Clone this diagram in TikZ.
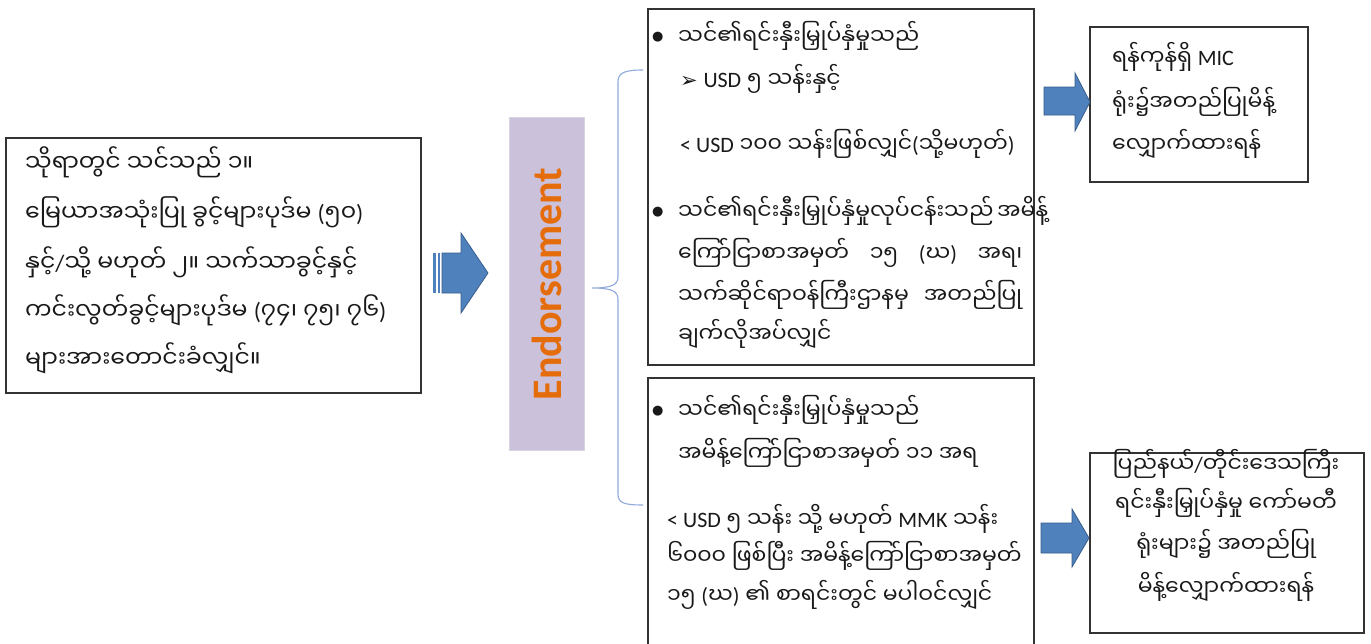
\documentclass[tikz,border=0pt]{standalone}
\usepackage{fontspec}
\setmainfont{Carlito}
\newfontfamily\myfont[Script=Myanmar]{Noto Sans Myanmar UI}
\newfontfamily\djfont{DejaVu Sans}
\newcommand\la[1]{{\rmfamily #1}}
\newcommand\bul{\raisebox{4pt}{\djfont\fontsize{13}{13}\selectfont ●}}
\newcommand\arr{{\djfont\fontsize{21}{21}\selectfont ➢}}
\definecolor{arrowblue}{HTML}{4F81BD}
\definecolor{arrowedge}{HTML}{385D8A}
\definecolor{endfill}{HTML}{CCC1DA}
\definecolor{endedge}{HTML}{D9D2E3}
\definecolor{endtext}{HTML}{E46C0A}
\definecolor{bracecol}{HTML}{8FAADC}
\definecolor{boxedge}{HTML}{333333}
\begin{document}
\begin{tikzpicture}[x=1pt,y=-1pt,
  box/.style={draw=boxedge, line width=1.6pt, inner sep=0pt, anchor=north west},
  mm/.style={inner sep=0pt, anchor=base west, font=\fontsize{22}{26}\selectfont\myfont, text=black!90},
  mmbig/.style={mm, font=\fontsize{23.6}{28}\selectfont\myfont},
  mmc/.style={mm, anchor=base},
  blockarrow/.style={fill=arrowblue, draw=arrowedge, line width=0.8pt, line join=miter}]
\useasboundingbox (0,0) rectangle (1371,643);
\fill[white] (0,0) rectangle (1371,643);

% boxes
\node[box, minimum width=415, minimum height=255] (L) at (5,137) {};
\node[box, fill=endfill, draw=endedge, line width=1pt, minimum width=75, minimum height=333] (E) at (509,117) {};
\node[box, minimum width=386, minimum height=356] (T1) at (647,8) {};
\node[box, minimum width=386, minimum height=290] (T2) at (647,377) {};
\node[box, minimum width=218, minimum height=155] (R1) at (1089,26) {};
\node[box, minimum width=274, minimum height=180] (R2) at (1089,452) {};

% Endorsement label
\node[rotate=90, inner sep=0pt, font=\fontsize{42}{42}\selectfont\bfseries, text=endtext] (Et) at (E.center) {Endorsement};

% striped arrow L -> E
\fill[arrowblue] (433,253) rectangle (435.5,293);
\fill[arrowblue] (437.5,253) rectangle (440,293);
\draw[blockarrow] (442,253) -- (461,253) -- (461,233) -- (488,273) -- (461,313) -- (461,293) -- (442,293) -- cycle;

% arrows T1 -> R1, T2 -> R2
\draw[blockarrow] (1044,87) -- (1075,87) -- (1075,73) -- (1090,102) -- (1075,131) -- (1075,115) -- (1044,115) -- cycle;
\draw[blockarrow] (1041,523) -- (1072,523) -- (1072,509) -- (1089,538) -- (1072,567) -- (1072,553) -- (1041,553) -- cycle;

% brace
\coordinate (bt) at (643,70);
\coordinate (bm) at (592,288);
\coordinate (bb) at (643,505);
\draw[bracecol, line width=1.1pt] (bt) .. controls (624,70) and (618,73) .. (618,82) -- (618,277)
  .. controls (618,285) and (611,288) .. (bm) .. controls (611,288) and (618,291) .. (618,299)
  -- (618,494) .. controls (618,503) and (624,505) .. (bb);

% left box text
\node[mmbig] (l1) at (25,171) {သိုရာတွင် သင်သည် ၁။};
\node[mmbig] (l2) at (25,221) {မြေယာအသုံးပြု ခွင့်များပုဒ်မ \la{(}၅၀\la{)}};
\node[mmbig] (l3) at (25,271) {နှင့်\la{/}သို့ မဟုတ် ၂။ သက်သာခွင့်နှင့်};
\node[mmbig] (l4) at (25,319) {ကင်းလွတ်ခွင့်များပုဒ်မ \la{(}၇၄၊ ၇၅၊ ၇၆\la{)}};
\node[mmbig] (l5) at (25,367) {များအားတောင်းခံလျှင်။};

% top box text
\node[mm] (b1) at (652,44) {\bul};
\node[mm] (a1) at (678,44) {သင်၏ရင်းနှီးမြှုပ်နှံမှုသည်};
\node[mm] (a2) at (680,87) {\arr\ \la{USD} ၅ သန်းနှင့်};
\node[mm] (a3) at (680,152) {\la{< USD} ၁၀၀ သန်းဖြစ်လျှင်\la{(}သို့မဟုတ်\la{)}};
\node[mm] (b2) at (652,219) {\bul};
\node[mm] (a4) at (678,219) {\makebox[344pt][s]{သင်၏ရင်းနှီးမြှုပ်နှံမှုလုပ်ငန်းသည် အမိန့်}};
\node[mm] (a5) at (678,261) {\makebox[344pt][s]{ကြော်ငြာစာအမှတ် ၁၅ \la{(}ဃ\la{)} အရ၊}};
\node[mm] (a6) at (678,303) {\makebox[344pt][s]{သက်ဆိုင်ရာဝန်ကြီးဌာနမှ အတည်ပြု}};
\node[mm] (a7) at (678,342) {ချက်လိုအပ်လျှင်};

% second box text
\node[mm] (b3) at (652,418) {\bul};
\node[mm] (c1) at (678,418) {သင်၏ရင်းနှီးမြှုပ်နှံမှုသည်};
\node[mm] (c2) at (678,461) {အမိန့်ကြော်ငြာစာအမှတ် ၁၁ အရ};
\node[mm] (c3) at (667,527) {\la{< USD} ၅ သန်း သို့ မဟုတ် \la{MMK} သန်း};
\node[mm] (c4) at (667,564) {၆၀၀၀ ဖြစ်ပြီး အမိန့်ကြော်ငြာစာအမှတ်};
\node[mm] (c5) at (667,603) {၁၅ \la{(}ဃ\la{)} ၏ စာရင်းတွင် မပါဝင်လျှင်};

% right box 1 text
\node[mm] (r1) at (1112,65) {ရန်ကုန်ရှိ \la{MIC}};
\node[mm] (r2) at (1112,110) {ရုံး၌အတည်ပြုမိန့်};
\node[mm] (r3) at (1112,152) {လျှောက်ထားရန်};

% right box 2 text
\node[mmc] (s1) at (1226,472) {ပြည်နယ်\la{/}တိုင်းဒေသကြီး};
\node[mmc] (s2) at (1226,511) {ရင်းနှီးမြှုပ်နှံမှု ကော်မတီ};
\node[mmc] (s3) at (1226,552) {ရုံးများ၌ အတည်ပြု};
\node[mmc] (s4) at (1226,595) {မိန့်လျှောက်ထားရန်};
\end{tikzpicture}
\end{document}
